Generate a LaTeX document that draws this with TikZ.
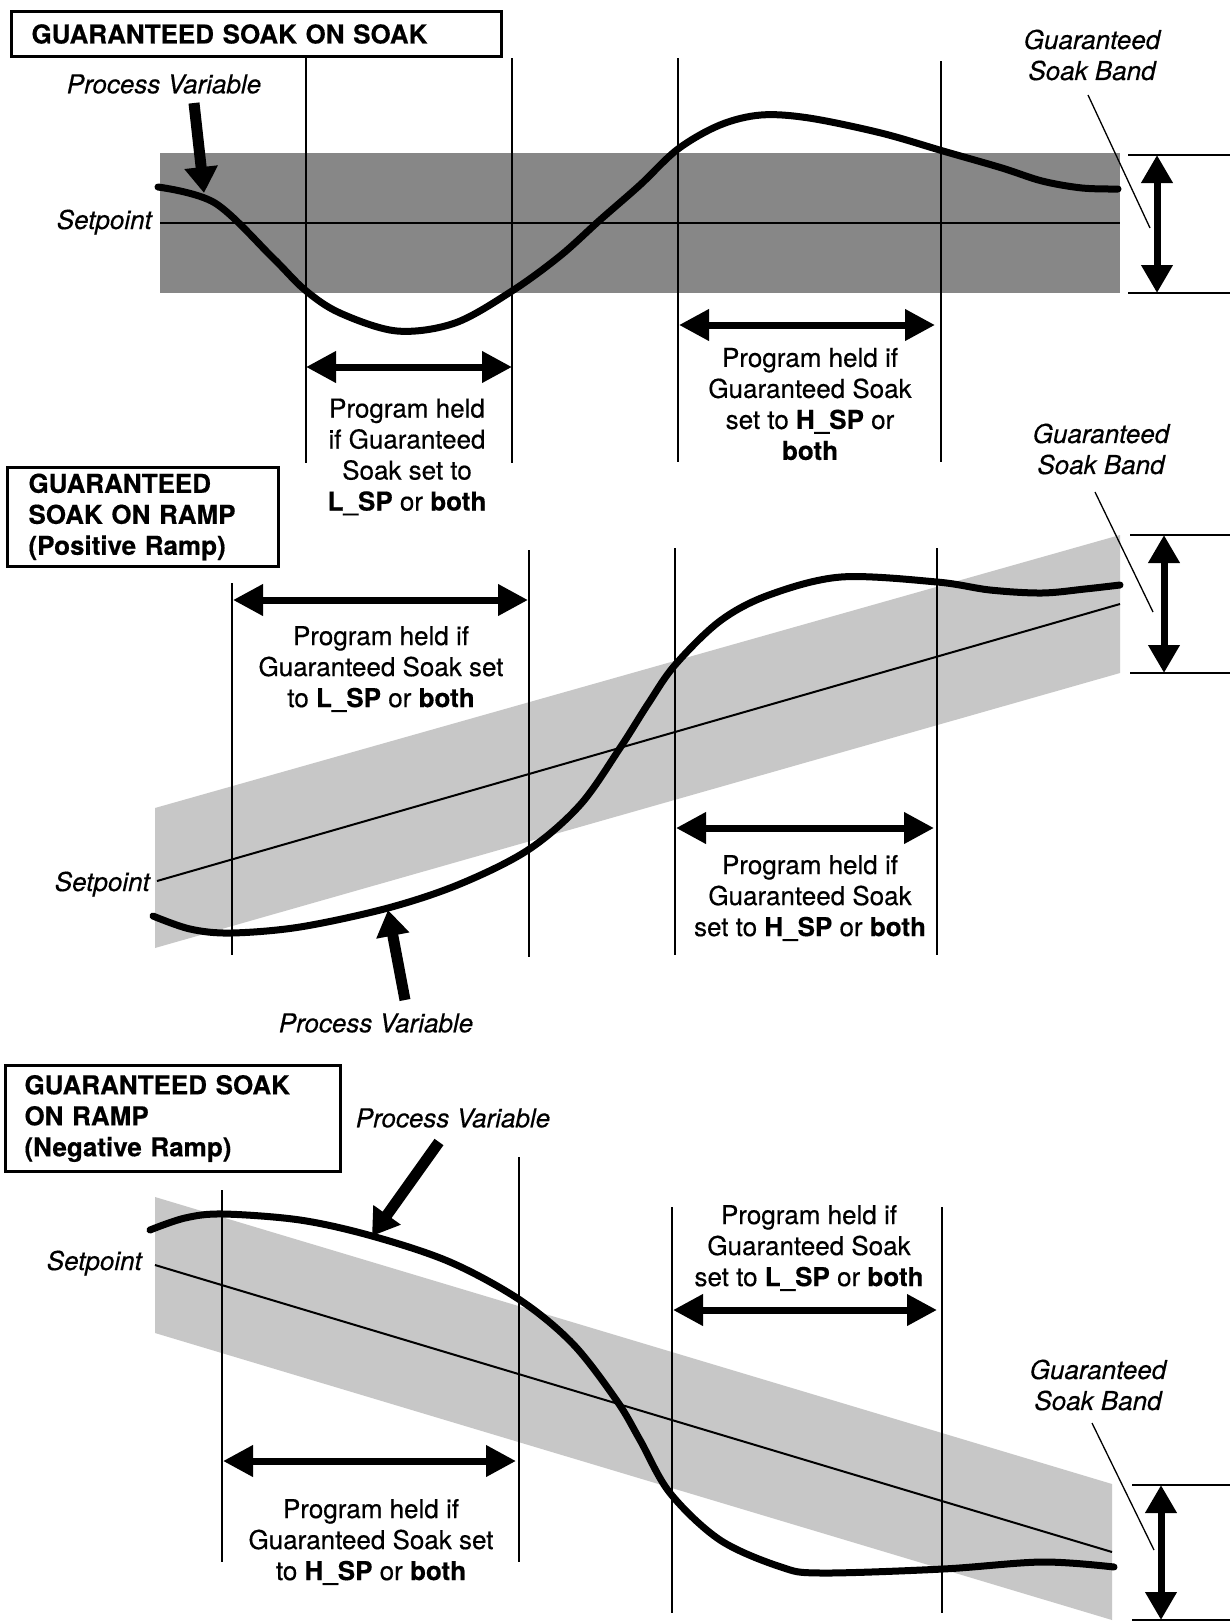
\documentclass[tikz,border=0pt]{standalone}
\usepackage{fontspec}
\setmainfont{TeX Gyre Heros}[FakeBold=0.4]
\usetikzlibrary{arrows.meta}
\newcommand{\dgfont}{\fontsize{26}{31}\selectfont}
\begin{document}
\begin{tikzpicture}[x=1pt,y=-1pt,
  bandA/.style={fill=black!47, draw=none},
  bandB/.style={fill=black!22, draw=none},
  vline/.style={line width=1.7pt},
  spline/.style={line width=2pt},
  pvcurve/.style={line width=7pt, line cap=round},
  holdarrow/.style={line width=7pt, {Triangle[length=30pt,width=30pt]}-{Triangle[length=30pt,width=30pt]}},
  bandarrow/.style={line width=7pt, {Triangle[length=28pt,width=30pt]}-{Triangle[length=28pt,width=30pt]}},
  pvarrow/.style={line width=11pt, -{Triangle[length=26pt,width=32pt]}},
  markline/.style={line width=2pt},
  leaderline/.style={line width=1.3pt},
  itlabel/.style={font=\dgfont\itshape, inner sep=0pt, align=center},
  holdtext/.style={font=\dgfont, inner sep=0pt, align=center},
  titlebox/.style={draw, line width=3pt, anchor=north west, align=left, inner ysep=0pt, font=\dgfont\bfseries},
]
\fill[white] (0,0) rectangle (1230,1623);
\useasboundingbox (0,0) rectangle (1230,1623);

% ================= Panel 1 =================
\fill[bandA] (160,153) rectangle (1120,293);
\draw[spline] (160,222.5) -- (1120,222.5);
\draw[vline] (306,58) -- (306,463);
\draw[vline] (512,58) -- (512,463);
\draw[vline] (678,58) -- (678,462);
\draw[vline] (941,61) -- (941,462);
\draw[pvcurve] plot[smooth, tension=0.55] coordinates {(158,187) (215,203) (273,258) (305,290) (340,313) (397,331) (455,323) (512,291) (560,256) (600,220) (640,185) (678,149) (720,125) (761,115) (809,118) (881,133) (943,151) (1002,168) (1042,181) (1082,188) (1118,189)};

\node[titlebox, minimum width=490pt, minimum height=45pt, inner xsep=20pt, text width=450pt] (t1) at (10,10) {GUARANTEED SOAK ON SOAK};
\node[itlabel] (pv1) at (164,84) {Process Variable};
\coordinate (pv1tail) at (194,103);
\coordinate (pv1tip) at (204,193);
\draw[pvarrow] (pv1tail) -- (pv1tip);
\node[itlabel, anchor=base east] (sp1) at (152,229) {Setpoint};

\coordinate (h1a) at (306,367); \coordinate (h1b) at (512,367);
\draw[holdarrow] (h1a) -- (h1b);
\node[holdtext] (h1t) at (407,457) {Program held\\if Guaranteed\\Soak set to\\\textbf{L\_SP} or \textbf{both}};
\coordinate (h2a) at (679,325); \coordinate (h2b) at (935,325);
\draw[holdarrow] (h2a) -- (h2b);
\node[holdtext] (h2t) at (810,404) {Program held if\\Guaranteed Soak\\set to \textbf{H\_SP} or\\\textbf{both}};

\node[itlabel] (gsb1) at (1092,55) {Guaranteed\\Soak Band};
\coordinate (gsb1end) at (1150,228);
\draw[leaderline] (1088,95) -- (gsb1end);
\coordinate (m1t) at (1128,155); \coordinate (m1b) at (1128,293);
\draw[markline] (m1t) -- (1230,155);
\draw[markline] (m1b) -- (1230,293);
\coordinate (b1t) at (1157,155); \coordinate (b1b) at (1157,293);
\draw[bandarrow] (b1t) -- (b1b);

% ================= Panel 2 =================
\fill[bandB] (155,808) -- (1120,535) -- (1120,673) -- (155,948) -- cycle;
\draw[spline] (157,881) -- (1120,604);
\draw[vline] (232,583) -- (232,955);
\draw[vline] (529,550) -- (529,957);
\draw[vline] (675,548) -- (675,955);
\draw[vline] (937,548) -- (937,955);
\draw[pvcurve] plot[smooth, tension=0.55] coordinates {(153,916) (190,929) (231,933) (300,927) (388,908) (460,884) (528,850) (580,805) (620,748) (648,704) (675,665) (720,621) (769,595) (841,577) (937,582) (990,590) (1042,593) (1085,589) (1120,585)};

\node[titlebox, minimum width=271pt, minimum height=99pt, inner xsep=21pt, text width=229pt] (t2) at (6,466) {GUARANTEED\\SOAK ON RAMP\\(Positive Ramp)};
\node[itlabel, anchor=base east] (sp2) at (150,891) {Setpoint};
\node[itlabel] (pv2) at (376,1023) {Process Variable};
\coordinate (pv2tail) at (405,1000);
\coordinate (pv2tip) at (388,910);
\draw[pvarrow] (pv2tail) -- (pv2tip);

\coordinate (h3a) at (233,600); \coordinate (h3b) at (528,600);
\draw[holdarrow] (h3a) -- (h3b);
\node[holdtext] (h3t) at (381,669) {Program held if\\Guaranteed Soak set\\to \textbf{L\_SP} or \textbf{both}};
\coordinate (h4a) at (676,828); \coordinate (h4b) at (934,828);
\draw[holdarrow] (h4a) -- (h4b);
\node[holdtext] (h4t) at (810,898) {Program held if\\Guaranteed Soak\\set to \textbf{H\_SP} or \textbf{both}};

\node[itlabel] (gsb2) at (1101,449) {Guaranteed\\Soak Band};
\coordinate (gsb2end) at (1153,612);
\draw[leaderline] (1095,492) -- (gsb2end);
\coordinate (m2t) at (1130,535); \coordinate (m2b) at (1130,673);
\draw[markline] (m2t) -- (1230,535);
\draw[markline] (m2b) -- (1230,673);
\coordinate (b2t) at (1164,535); \coordinate (b2b) at (1164,673);
\draw[bandarrow] (b2t) -- (b2b);

% ================= Panel 3 =================
\fill[bandB] (155,1197) -- (1112,1484) -- (1112,1620) -- (155,1333) -- cycle;
\draw[spline] (155,1265) -- (1112,1552);
\draw[vline] (222,1190) -- (222,1562);
\draw[vline] (519,1157) -- (519,1562);
\draw[vline] (672,1207) -- (672,1613);
\draw[vline] (942,1207) -- (942,1613);
\draw[pvcurve] plot[smooth, tension=0.55] coordinates {(150,1230) (185,1218) (223,1214) (300,1220) (372,1236) (450,1262) (520,1300) (573,1344) (617,1401) (640,1440) (670,1493) (720,1540) (781,1567) (821,1573) (943,1569) (1042,1562) (1114,1567)};

\node[titlebox, minimum width=335pt, minimum height=106pt, inner xsep=19pt, text width=297pt] (t3) at (4,1064) {GUARANTEED SOAK\\ON RAMP\\(Negative Ramp)};
\node[itlabel, anchor=base east] (sp3) at (142,1270) {Setpoint};
\node[itlabel] (pv3) at (453,1118) {Process Variable};
\coordinate (pv3tail) at (439,1142);
\coordinate (pv3tip) at (372,1236);
\draw[pvarrow] (pv3tail) -- (pv3tip);

\coordinate (h5a) at (223,1461); \coordinate (h5b) at (516,1461);
\draw[holdarrow] (h5a) -- (h5b);
\node[holdtext] (h5t) at (371,1542) {Program held if\\Guaranteed Soak set\\to \textbf{H\_SP} or \textbf{both}};
\coordinate (h6a) at (673,1310); \coordinate (h6b) at (937,1310);
\draw[holdarrow] (h6a) -- (h6b);
\node[holdtext] (h6t) at (809,1248) {Program held if\\Guaranteed Soak\\set to \textbf{L\_SP} or \textbf{both}};

\node[itlabel] (gsb3) at (1098,1385) {Guaranteed\\Soak Band};
\coordinate (gsb3end) at (1154,1550);
\draw[leaderline] (1092,1423) -- (gsb3end);
\coordinate (m3t) at (1132,1485); \coordinate (m3b) at (1132,1620);
\draw[markline] (m3t) -- (1230,1485);
\draw[markline] (m3b) -- (1230,1620);
\coordinate (b3t) at (1161,1485); \coordinate (b3b) at (1161,1620);
\draw[bandarrow] (b3t) -- (b3b);
\end{tikzpicture}
\end{document}
